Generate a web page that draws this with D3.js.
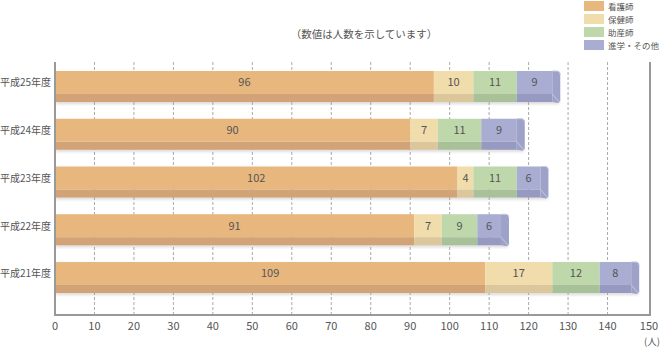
<!DOCTYPE html>
<html><head><meta charset="utf-8">
<script src="https://cdn.jsdelivr.net/npm/d3@7"></script>
<style>body{margin:0;background:#fff}svg{display:block}text{font-family:"Noto Sans CJK JP","Noto Sans",sans-serif;fill:#555}</style>
</head><body><svg id="c" width="660" height="347"></svg>
<script>
const categories = ["平成25年度","平成24年度","平成23年度","平成22年度","平成21年度"];
const seriesNames = ["看護師","保健師","助産師","進学・その他"];
const nurse = [96,90,102,91,109];
const publicHealthNurse = [10,7,4,7,17];
const midwife = [11,11,11,9,12];
const other = [9,9,6,6,8];
const xTicks = [0,10,20,30,40,50,60,70,80,90,100,110,120,130,140,150];
const note = "（数値は人数を示しています）";
const unit = "(人)";

const faceColors = ["#e8b77e","#f1dcab","#bfd8ab","#a9add1"];
const stripColors = ["#d1a377","#dbc79b","#a9c198","#969ac0"];

const svg = d3.select("#c");
const x = d3.scaleLinear().domain([0,150]).range([55,647]);
const y = d3.scaleBand().domain(categories).range([71,293]).paddingInner(0.35).paddingOuter(0);
const bw = y.bandwidth();
const faceH = bw*0.74;

const rows = categories.map((c,i)=>({cat:c, vals:[nurse[i],publicHealthNurse[i],midwife[i],other[i]]}));

const defs = svg.append("defs");
const f = defs.append("filter").attr("id","sh").attr("x","-5%").attr("y","-30%").attr("width","110%").attr("height","170%");
f.append("feGaussianBlur").attr("stdDeviation",1.5);

// grid
const gridTop = 62, gridBottom = 315;
svg.append("g").selectAll("line").data(xTicks.filter(t=>t>0&&t<150)).join("line")
  .attr("x1",d=>x(d)).attr("x2",d=>x(d)).attr("y1",gridTop).attr("y2",gridBottom)
  .attr("stroke","#aaa").attr("stroke-width",1).attr("stroke-dasharray","3,2");

// bars
const g = svg.append("g");
rows.forEach(r=>{
  const y0 = y(r.cat), y1 = y0+bw;
  const total = d3.sum(r.vals);
  const xe = x(total);
  g.append("rect").attr("x",x(0)+1).attr("y",y1-2).attr("width",xe-x(0)+6).attr("height",4)
    .attr("fill","#999").attr("opacity",0.35).attr("filter","url(#sh)");
  let acc = 0;
  r.vals.forEach((v,j)=>{
    const xa = x(acc), xb = x(acc+v);
    g.append("rect").attr("x",xa).attr("y",y0).attr("width",xb-xa).attr("height",faceH).attr("fill",faceColors[j]);
    g.append("rect").attr("x",xa).attr("y",y0+faceH).attr("width",xb-xa).attr("height",bw-faceH).attr("fill",stripColors[j]);
    g.append("text").attr("x",(xa+xb)/2).attr("y",y0+faceH/2+4).attr("text-anchor","middle")
      .attr("font-size",11).style("fill","#555").text(v);
    acc += v;
  });
  g.append("path").attr("d",`M${xe},${y0} L${xe+5},${y0} Q${xe+8},${y0} ${xe+8},${y0+4} L${xe+8},${y1-1} L${xe+6},${y1+1} L${xe},${y1} Z`)
    .attr("fill","#9ea2c8");
  g.append("path").attr("d",`M${xe},${y0+faceH} L${xe+7},${y1}`).attr("stroke","#c6c9e2").attr("stroke-width",1).attr("fill","none");
  g.append("path").attr("d",`M${xe},${y0} L${xe+5},${y0} Q${xe+8},${y0} ${xe+8},${y0+4}`).attr("stroke","#c6c9e2").attr("stroke-width",1).attr("fill","none");
});

// frame
svg.append("path").attr("d",`M55,${gridTop} L55,${gridBottom} L650,${gridBottom} L650,${gridTop}`)
  .attr("fill","none").attr("stroke","#999").attr("stroke-width",2);

// x tick labels
svg.append("g").selectAll("text").data(xTicks).join("text")
  .attr("x",d=>x(d)+(d===150?2:0)).attr("y",330).attr("text-anchor","middle").attr("font-size",11).text(d=>d);
svg.append("text").attr("x",652).attr("y",345).attr("text-anchor","middle").attr("font-size",9.5).text(unit);

// category labels
svg.append("g").selectAll("text").data(categories).join("text")
  .attr("x",51).attr("y",d=>y(d)+faceH/2+4).attr("text-anchor","end").attr("font-size",10).text(d=>d);

// note
svg.append("text").attr("x",364).attr("y",38).attr("text-anchor","middle").attr("font-size",10.5).text(note);

// legend
const lg = svg.append("g");
seriesNames.forEach((s,i)=>{
  lg.append("rect").attr("x",584).attr("y",1+i*13).attr("width",20).attr("height",10).attr("fill",faceColors[i]);
  lg.append("text").attr("x",608).attr("y",10+i*13).attr("font-size",8.5).text(s);
});
</script></body></html>
